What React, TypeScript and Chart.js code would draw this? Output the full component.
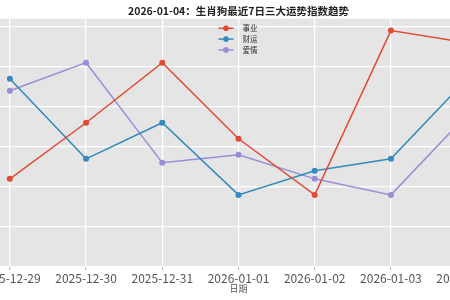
import React, { useEffect, useRef } from "react";
import { Chart, registerables } from "chart.js";

Chart.register(...registerables);

const TITLE = "2026-01-04：生肖狗最近7日三大运势指数趋势";
const X_LABEL = "日期";
const dates = ["2025-12-29", "2025-12-30", "2025-12-31", "2026-01-01", "2026-01-02", "2026-01-03", "2026-01-04"];
const seriesNames = ["事业", "财运", "爱情"];
const career = [62, 76, 91, 72, 58, 99, 96];
const wealth = [87, 67, 76, 58, 64, 67, 87];
const love = [84, 91, 66, 68, 62, 58, 78];
const colors = ["#E24A33", "#348ABD", "#988ED5"];

const FONT = "'Noto Sans CJK SC', 'DejaVu Sans', sans-serif";

const bgPlugin = {
  id: "plotBg",
  beforeDraw(chart: any) {
    const { ctx, chartArea } = chart;
    ctx.save();
    ctx.fillStyle = "#E5E5E5";
    ctx.fillRect(chartArea.left, chartArea.top, chartArea.right - chartArea.left, chartArea.bottom - chartArea.top);
    ctx.restore();
  },
};

const legendPlugin = {
  id: "innerLegend",
  afterDatasetsDraw(chart: any) {
    const { ctx, chartArea } = chart;
    const cx = (chartArea.left + chartArea.right) / 2;
    const x0 = cx - 20;
    ctx.save();
    chart.data.datasets.forEach((ds: any, i: number) => {
      const y = chartArea.top + 9.7 + i * 10.8;
      ctx.strokeStyle = ds.borderColor;
      ctx.lineWidth = 1.5;
      ctx.beginPath();
      ctx.moveTo(x0, y);
      ctx.lineTo(x0 + 15, y);
      ctx.stroke();
      ctx.fillStyle = ds.borderColor;
      ctx.beginPath();
      ctx.arc(x0 + 7.5, y, 2.8, 0, Math.PI * 2);
      ctx.fill();
      ctx.fillStyle = "#333333";
      ctx.font = `7.5px ${FONT}`;
      ctx.textBaseline = "middle";
      ctx.textAlign = "left";
      ctx.fillText(ds.label, x0 + 24, y);
    });
    ctx.restore();
  },
};

export default function App() {
  const ref = useRef<HTMLCanvasElement>(null);
  useEffect(() => {
    if (!ref.current) return;
    const series = [career, wealth, love];
    const chart = new Chart(ref.current, {
      type: "line",
      data: {
        datasets: series.map((vals, i) => ({
          label: seriesNames[i],
          data: vals.map((v, j) => ({ x: j, y: v })),
          borderColor: colors[i],
          backgroundColor: colors[i],
          borderWidth: 1.5,
          pointRadius: 3,
          pointBorderWidth: 0,
          pointHoverRadius: 3,
          tension: 0,
        })),
      },
      options: {
        responsive: false,
        animation: false,
        devicePixelRatio: 1,
        layout: { padding: { left: 17, right: 20, top: 0, bottom: 0 } },
        plugins: {
          legend: { display: false },
          tooltip: { enabled: false },
          title: {
            display: true,
            text: TITLE,
            color: "#222222",
            font: { family: FONT, size: 10.5, weight: "bold" },
            padding: { top: 5, bottom: 1 },
          },
        },
        scales: {
          x: {
            type: "linear",
            min: -0.3,
            max: 6.3,
            afterBuildTicks: (scale: any) => {
              scale.ticks = dates.map((_, i) => ({ value: i }));
            },
            afterFit: (scale: any) => {
              scale.height = 33;
            },
            ticks: {
              autoSkip: false,
              maxRotation: 0,
              padding: 2,
              color: "#555555",
              font: { family: FONT, size: 12, lineHeight: 1 },
              callback: (v: any) => dates[v as number] ?? "",
            },
            grid: { color: "#FFFFFF", lineWidth: 1.2, drawTicks: true, tickLength: 3, tickColor: "#B0B0B0", tickWidth: 1 },
            border: { display: false },
            title: {
              display: true,
              text: X_LABEL,
              color: "#555555",
              font: { family: FONT, size: 9, lineHeight: 1 },
              padding: { top: 0, bottom: 6.5 },
            },
          },
          y: {
            min: 40,
            max: 102,
            ticks: { display: false, stepSize: 10, includeBounds: false },
            grid: { color: "#FFFFFF", lineWidth: 1.2, drawTicks: false },
            border: { display: false },
          },
        },
      },
      plugins: [bgPlugin, legendPlugin],
    });
    return () => chart.destroy();
  }, []);
  return (
    <div style={{ position: "fixed", left: 0, top: 0, width: 450, height: 300, overflow: "hidden", background: "#FFFFFF" }}>
      <canvas ref={ref} width={540} height={300} style={{ position: "absolute", left: -30, top: 0, width: 540, height: 300 }} />
    </div>
  );
}
